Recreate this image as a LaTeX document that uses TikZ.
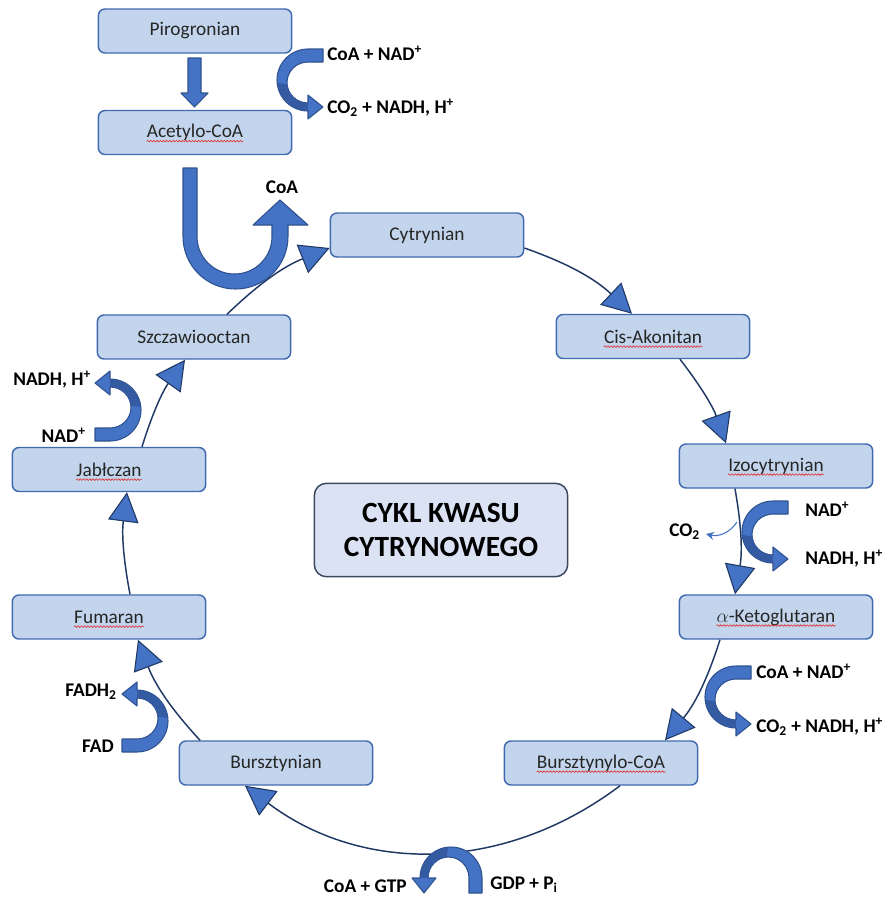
\documentclass[tikz,border=0pt]{standalone}
\usepackage{fontspec}
\setmainfont{Carlito}
\usetikzlibrary{arrows.meta,calc,decorations.pathmorphing}
\definecolor{boxfill}{RGB}{194,213,236}
\definecolor{boxdraw}{RGB}{65,105,175}
\definecolor{titlefill}{RGB}{218,226,243}
\definecolor{titledraw}{RGB}{60,72,96}
\definecolor{linecol}{RGB}{31,56,100}
\definecolor{blockfill}{RGB}{68,114,196}
\definecolor{blockdark}{RGB}{52,90,162}
\definecolor{blockdraw}{RGB}{47,82,143}
\definecolor{spellred}{RGB}{230,40,40}
\tikzset{
  bandarrow/.pic={
    \filldraw[fill=blockfill,draw=blockdraw,line width=0.8pt,line join=round]
      (15,31) -- (0,31) arc[start angle=90,end angle=270,x radius=31,y radius=31]
      -- (0,-39) -- (15,-27) -- (0,-15) -- (0,-23)
      arc[start angle=270,end angle=90,x radius=21,y radius=20.5]
      -- (15,18) -- cycle;
    \fill[blockdark]
      (-30.5,-3) arc[start angle=185,end angle=270,x radius=30.5,y radius=30.5]
      -- (0,-23) arc[start angle=270,end angle=185,x radius=21,y radius=20.5] -- cycle;
  }
}
\begin{document}
\begin{tikzpicture}[x=0.75pt,y=-0.75pt,
  box/.style={draw=boxdraw, fill=boxfill, line width=1.1pt, rounded corners=5pt,
    minimum width=145pt, minimum height=33pt, inner sep=0pt,
    font=\fontsize{14.5}{17}\selectfont, text=black!85},
  btext/.style={inner sep=0pt, font=\fontsize{14.5}{17}\selectfont, text=black!85},
  spell/.style={draw=spellred, line width=0.45pt, decorate,
    decoration={snake,amplitude=0.6pt,segment length=2.4pt}},
  lbl/.style={font=\bfseries\fontsize{14.5}{17}\selectfont, inner sep=0pt},
  conn/.style={draw=linecol, line width=1.1pt,
    -{Triangle[length=22pt,width=23pt,fill=blockfill,line width=0.8pt]}},
  block/.style={fill=blockfill, draw=blockdraw, line width=0.8pt, line join=round}]
\useasboundingbox (0,0) rectangle (883,897);

% boxes
\node[box] (piro) at (195,31) {Pirogronian};
\node[box] (acet) at (195,132.5) {};
\node[btext] (acett) at (acet) {Acetylo-CoA};
\node[box] (cyt) at (427,235) {Cytrynian};
\node[box] (cis) at (653,336.5) {};
\node[btext] (cist) at (cis) {Cis-Akonitan};
\node[box] (izo) at (776,466) {};
\node[btext] (izot) at (izo) {Izocytrynian};
\node[box] (keto) at (776,617) {};
\node[btext] (ketot) at (keto) {$\alpha$-Ketoglutaran};
\node[box] (bcoa) at (601,763) {};
\node[btext] (bcoat) at (bcoa) {Bursztynylo-CoA};
\node[box] (burs) at (276,763) {Bursztynian};
\node[box] (fum) at (109,617) {};
\node[btext] (fumt) at (fum) {Fumaran};
\node[box] (jab) at (109,469.5) {};
\node[btext] (jabt) at (jab) {Jabłczan};
\node[box] (szcz) at (194,337) {Szczawiooctan};
\node[draw=titledraw, fill=titlefill, line width=1.1pt, rounded corners=9pt,
  minimum width=190pt, minimum height=70pt, align=center,
  font=\bfseries\fontsize{22}{26}\selectfont] (title) at (441,530) {CYKL KWASU\\CYTRYNOWEGO};

% spell-check underlines
\foreach \t in {acett,cist,izot,ketot,bcoat,fumt,jabt}{
  \draw[spell] ([yshift=-2.6pt]\t.base west) -- ([yshift=-2.6pt]\t.base east);
}

% cycle connectors
\draw[conn] ($(szcz.north)+(33,0)$) to[bend left=11] ($(cyt.west)+(0,13)$);
\draw[conn] ($(cyt.east)+(0,13)$) to[bend left=12] ($(cis.north)+(-21,0)$);
\draw[conn] ($(cis.south)+(27,0)$) to[bend left=9] ($(izo.north)+(-50,0)$);
\draw[conn] ($(izo.south)+(-41,0)$) to[bend left=10] ($(keto.north)+(-41,0)$);
\draw[conn] ($(keto.south)+(-56,0)$) to[bend left=11] ($(bcoa.north)+(64,0)$);
\draw[conn] ($(bcoa.south)+(19,0)$) to[bend left=37] ($(burs.south)+(-31,0)$);
\draw[conn] ($(burs.north)+(-76,0)$) to[bend left=11] ($(fum.south)+(29,0)$);
\draw[conn] ($(fum.north)+(21,0)$) to[bend left=9] ($(jab.south)+(18,0)$);
\draw[conn] ($(jab.north)+(33,0)$) to[bend left=9] ($(szcz.south)+(-9,0)$);

% CO2 side arrow
\coordinate (co2s) at (737,522);
\coordinate (co2e) at (706,534);
\draw[draw=blockfill, line width=0.8pt, -{Stealth[length=6pt,width=6pt]}] (co2s) to[bend left=35] (co2e);

% block arrows
\filldraw[block] (188,58) -- (201,58) -- (201,93) -- (208,93) -- (194.5,107) -- (181,93) -- (188,93) -- cycle;
\filldraw[block] (183,168) -- (183,236.5) arc[start angle=180,end angle=0,radius=52.5]
  -- (288,225) -- (308,225) -- (280,200) -- (253,225) -- (272,225) -- (272,236.5)
  arc[start angle=0,end angle=180,radius=37.5] -- (197,168) -- cycle;

\pic[yscale=-1] at (308,80) {bandarrow};
\pic[yscale=-1] at (773,532) {bandarrow};
\pic[yscale=-1] at (736,697) {bandarrow};
\pic[xscale=-1] at (110,410) {bandarrow};
\pic[xscale=-1] at (137,721) {bandarrow};
\pic[rotate=-90, yscale=-1] at (451,878) {bandarrow};

% labels
\node[lbl, anchor=west] (l1) at (327,53) {CoA + NAD\textsuperscript{+}};
\node[lbl, anchor=west] (l2) at (327,108) {CO\textsubscript{2} + NADH, H\textsuperscript{+}};
\node[lbl] (l3) at (282,187) {CoA};
\node[lbl, anchor=west] (l4) at (13,380) {NADH, H\textsuperscript{+}};
\node[lbl, anchor=east] (l5) at (86,435) {NAD\textsuperscript{+}};
\node[lbl, anchor=west] (l6) at (805,509) {NAD\textsuperscript{+}};
\node[lbl, anchor=west] (l7) at (805,559) {NADH, H\textsuperscript{+}};
\node[lbl, anchor=west] (l8) at (669,532) {CO\textsubscript{2}};
\node[lbl, anchor=west] (l9) at (756,671) {CoA + NAD\textsuperscript{+}};
\node[lbl, anchor=west] (l10) at (756,727) {CO\textsubscript{2} + NADH, H\textsuperscript{+}};
\node[lbl, anchor=west] (l11) at (65,692) {FADH\textsubscript{2}};
\node[lbl, anchor=east] (l12) at (114,746) {FAD};
\node[lbl, anchor=east] (l13) at (407,886) {CoA + GTP};
\node[lbl, anchor=west] (l14) at (490,885) {GDP + P\textsubscript{i}};
\end{tikzpicture}
\end{document}
